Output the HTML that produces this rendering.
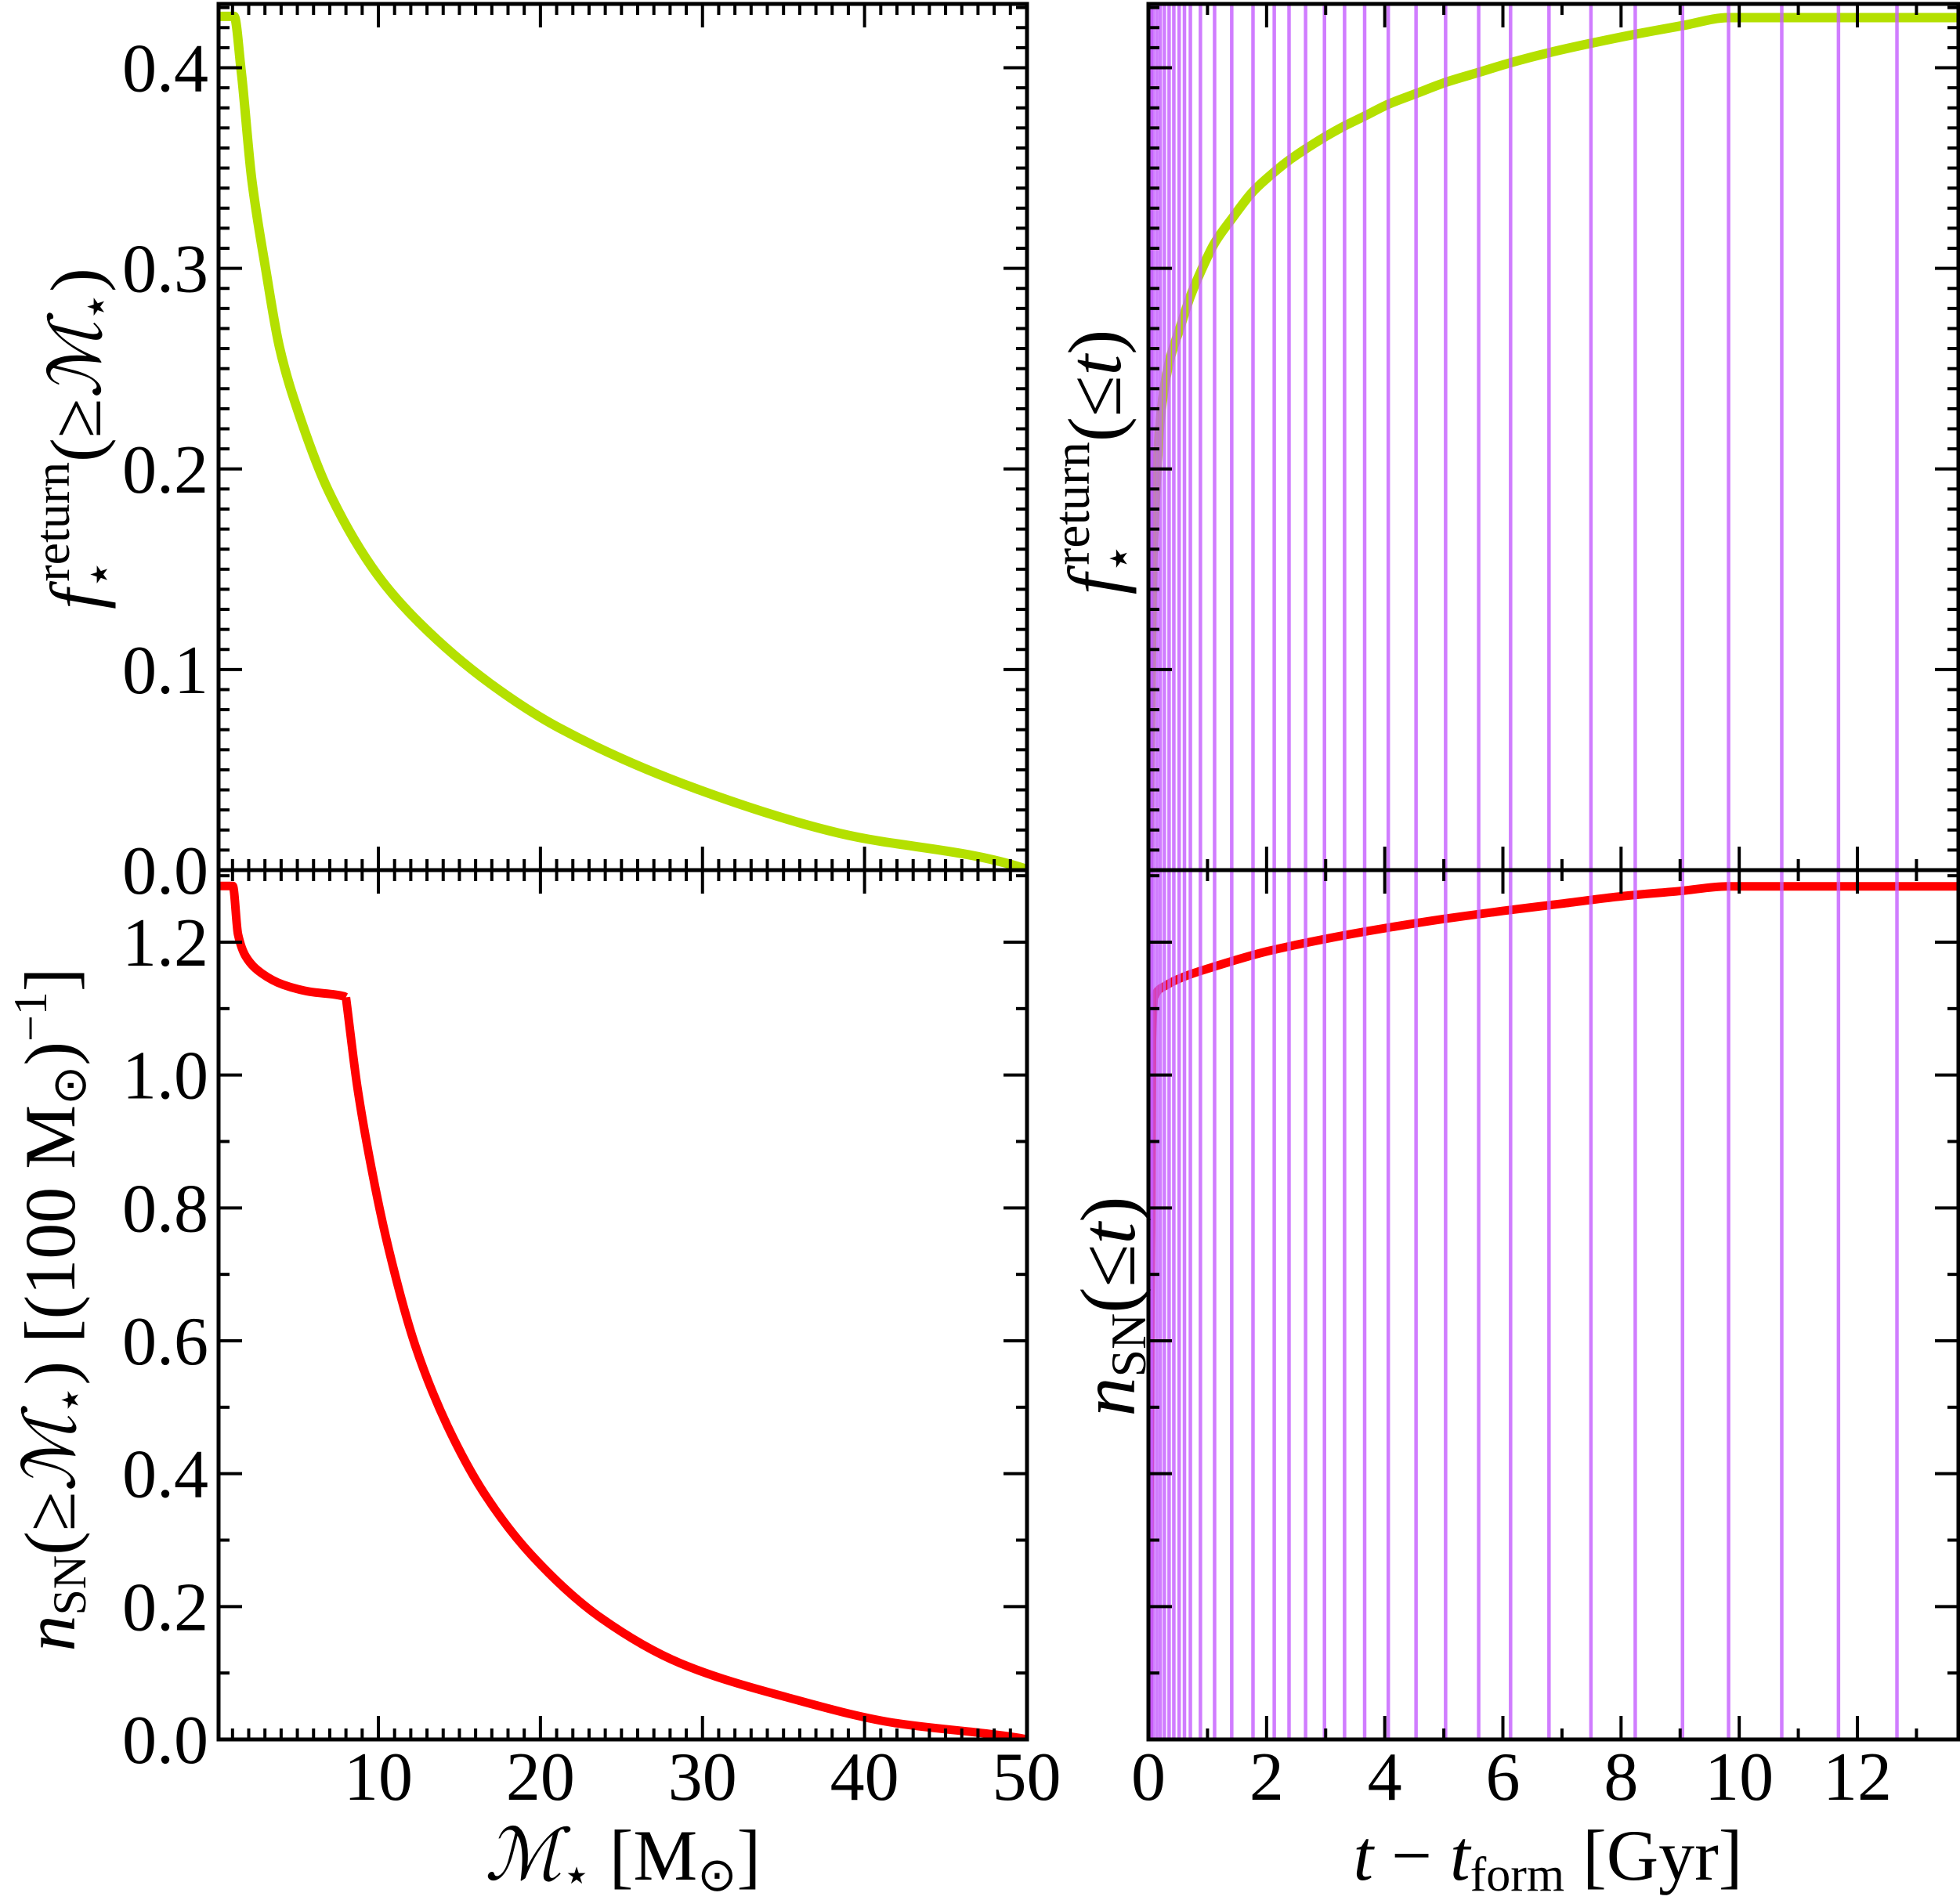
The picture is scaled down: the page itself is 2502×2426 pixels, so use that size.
<!DOCTYPE html>
<html><head><meta charset="utf-8"><style>
html,body{margin:0;padding:0;background:#fff;}
svg{display:block;font-family:"Liberation Serif",serif;}
</style></head><body>
<svg id="fig" width="2502" height="2426" viewBox="0 0 2502 2426" xmlns="http://www.w3.org/2000/svg">
<g id="clips"></g>
<g id="layer"></g>
<g id="labels">
 <text transform="translate(128,560) rotate(-90)" text-anchor="middle" font-size="92"><tspan font-style="italic">f</tspan><tspan font-size="60" dy="18">⋆</tspan><tspan font-size="64" dy="-58" dx="-28">return</tspan><tspan dy="40">(≥</tspan><tspan font-style="italic">ℳ</tspan><tspan font-size="60" dy="14">⋆</tspan><tspan dy="-14">)</tspan></text>
 <text transform="translate(95,1672) rotate(-90)" text-anchor="middle" font-size="92"><tspan font-style="italic">n</tspan><tspan font-size="60" dy="14">SN</tspan><tspan dy="-14">(≥</tspan><tspan font-style="italic">ℳ</tspan><tspan font-size="60" dy="14">⋆</tspan><tspan dy="-14">)  [(100 M</tspan><tspan font-size="60" dy="14">⊙</tspan><tspan dy="-14">)</tspan><tspan font-size="60" dy="-36">−1</tspan><tspan dy="36">]</tspan></text>
 <text transform="translate(1430,590) rotate(-90)" text-anchor="middle" font-size="96"><tspan font-style="italic">f</tspan><tspan font-size="62" dy="18">⋆</tspan><tspan font-size="66" dy="-58" dx="-28">return</tspan><tspan dy="40">(≤</tspan><tspan font-style="italic">t</tspan><tspan>)</tspan></text>
 <text transform="translate(1448,1668) rotate(-90)" text-anchor="middle" font-size="100"><tspan font-style="italic">n</tspan><tspan font-size="64" dy="14">SN</tspan><tspan dy="-14">(≤</tspan><tspan font-style="italic">t</tspan><tspan>)</tspan></text>
 <text x="795" y="2400" text-anchor="middle" font-size="92"><tspan font-style="italic">ℳ</tspan><tspan font-size="60" dy="14">⋆</tspan><tspan dy="-14"> [M</tspan><tspan font-size="60" dy="14">⊙</tspan><tspan dy="-14">]</tspan></text>
 <text x="1976" y="2400" text-anchor="middle" font-size="92"><tspan font-style="italic">t</tspan><tspan> − </tspan><tspan font-style="italic">t</tspan><tspan font-size="62" dy="14">form</tspan><tspan dy="-14"> [Gyr]</tspan></text>
</g>
</svg>
<script>
// ---- data ----
const massTL = [0.1,1.1,1.54,2.19,3.05,3.9,5.21,6.93,9.96,12.55,16.87,21.18,29.8,38.45,49.7,50];
const fretTL = [0.4256,0.4256,0.398,0.3443,0.2995,0.2606,0.2247,0.1889,0.147,0.1231,0.0932,0.0708,0.04,0.0184,0.0012,0];
const massBL1 = [0.1,1.02,1.34,1.83,2.81,4.12,5.75,7.88,8.0];
const nsnBL1 = [1.2846,1.2846,1.212,1.178,1.153,1.136,1.1255,1.1186,1.117];
const massBL2 = [8.0,8.7,9.68,10.66,12.3,14.26,16.54,19.49,23.74,28.64,35.18,41.72,49.6,50];
const nsnBL2 = [1.117,0.9825,0.8464,0.7357,0.591,0.472,0.37,0.2764,0.1828,0.1146,0.0636,0.0254,0.002,0];
const timeTR = [0,0.03,0.077,0.14,0.2,0.35,0.52,0.71,0.88,1.12,1.41,1.77,2.13,2.38,2.66,2.98,3.32,3.66,4.06,4.53,5.03,5.59,6.13,6.78,7.49,8.24,9.04,9.82,13.75];
const fretTR = [0,0.071,0.155,0.197,0.2245,0.253,0.269,0.286,0.298,0.3126,0.3246,0.3383,0.348,0.3539,0.3595,0.3654,0.371,0.3759,0.3818,0.3871,0.3927,0.3977,0.4025,0.4075,0.4122,0.4167,0.421,0.425,0.425];
const timeBR = [0,0.03,0.06,0.1,0.3,0.6,1,2,3,4,5,6,7,8,9,9.8,13.75];
const nsnBR = [0,0.6,1.05,1.118,1.135,1.148,1.16,1.186,1.205,1.221,1.235,1.247,1.258,1.269,1.277,1.284,1.284];
const snTimes = [0.02,0.05,0.077,0.14,0.2,0.27,0.35,0.43,0.52,0.61,0.71,0.88,1.12,1.41,1.77,2.13,2.38,2.66,2.98,3.32,3.66,4.06,4.53,5.03,5.59,6.13,6.78,7.49,8.24,9.04,9.82,10.72,11.68,12.67];
const leftXTicks = [10,20,30,40,50];
const rightXTicks = [0,2,4,6,8,10,12];
const topYTicks = ["0.0","0.1","0.2","0.3","0.4"];
const botYTicks = ["0.0","0.2","0.4","0.6","0.8","1.0","1.2"];

const NS="http://www.w3.org/2000/svg";
const layer=document.getElementById('layer');
function mk(tag,attrs,parent){const e=document.createElementNS(NS,tag);for(const k in attrs)e.setAttribute(k,attrs[k]);(parent||layer).appendChild(e);return e;}
function lin(d0,d1,r0,r1){return v=>r0+(v-d0)*(r1-r0)/(d1-d0);}

const L={x0:279,x1:1311}, R={x0:1466,x1:2500};
const T={y0:5,y1:1111}, B={y0:1111,y1:2221};
const xL=lin(10,50,483,1310.5);
const xR=lin(0,12,1466,2371);
const yT=lin(0,0.4,1111,86.5);
const yB=lin(0,1.2,2221,1203);

function clip(id,x0,x1,y0,y1){const c=mk('clipPath',{id:id},document.getElementById('clips'));mk('rect',{x:x0,y:y0,width:x1-x0,height:y1-y0},c);}
clip('cTL',L.x0,L.x1,T.y0,T.y1);clip('cBL',L.x0,L.x1,B.y0,B.y1);
clip('cTR',R.x0,R.x1,T.y0,T.y1);clip('cBR',R.x0,R.x1,B.y0,B.y1);

// monotone cubic (Fritsch-Carlson) path in pixel space
function monoPath(px,py){
  const n=px.length;const d=[],m=[];
  for(let i=0;i<n-1;i++){const dx=px[i+1]-px[i];d.push(dx===0?0:(py[i+1]-py[i])/dx);}
  m[0]=d[0];m[n-1]=d[n-2];
  for(let i=1;i<n-1;i++){m[i]=(d[i-1]*d[i]<=0)?0:3*(px[i+1]-px[i-1])/((2*px[i+1]-px[i]-px[i-1])/d[i-1]+(px[i+1]+px[i]-2*px[i-1])/d[i]);}
  let s='M'+px[0].toFixed(1)+' '+py[0].toFixed(1);
  for(let i=0;i<n-1;i++){const h=(px[i+1]-px[i])/3;
    s+='C'+(px[i]+h).toFixed(1)+' '+(py[i]+m[i]*h).toFixed(1)+' '+(px[i+1]-h).toFixed(1)+' '+(py[i+1]-m[i+1]*h).toFixed(1)+' '+px[i+1].toFixed(1)+' '+py[i+1].toFixed(1);}
  return s;
}
function curve(xs,ys,fx,fy,color,w,clipId,name){
  const d=monoPath(xs.map(fx),ys.map(fy));
  const p=mk('path',{d:d,fill:'none',stroke:color,'stroke-width':w,'stroke-linejoin':'round','clip-path':'url(#'+clipId+')'});
  
  
}
curve(massTL,fretTL,xL,yT,'#b4e000',12,'cTL','return-fraction-mass-curve');
curve(massBL1,nsnBL1,xL,yB,'#ff0000',11,'cBL','supernova-count-mass-curve-low');
curve(massBL2,nsnBL2,xL,yB,'#ff0000',11,'cBL','supernova-count-mass-curve-high');
curve(timeTR,fretTR,xR,yT,'#b4e000',12,'cTR','return-fraction-time-curve');
curve(timeBR,nsnBR,xR,yB,'#ff0000',11,'cBR','supernova-count-time-curve');

snTimes.forEach(t=>{
  const x=xR(t);
  const l=mk('line',{x1:x,x2:x,y1:T.y0,y2:B.y1,stroke:'#c45cff','stroke-opacity':0.8,'stroke-width':4.5});
  
  
});

function tickX(fx,xmin,xmax,minorStep,majorStep,yTop,yBot){
  for(let v=Math.ceil(xmin/minorStep)*minorStep; v<=xmax+1e-9; v+=minorStep){
    const major=Math.abs(v/majorStep-Math.round(v/majorStep))<1e-6;
    const len=major?30:14;const x=fx(v);
    mk('line',{x1:x,x2:x,y1:yTop,y2:yTop+len,stroke:'#000','stroke-width':4});
    mk('line',{x1:x,x2:x,y1:yBot,y2:yBot-len,stroke:'#000','stroke-width':4});
  }
}
function tickY(fy,vmin,vmax,minorStep,majorStep,xl,xr){
  for(let v=0; v<=vmax+1e-9; v+=minorStep){
    if(v<vmin-1e-9)continue;
    const major=Math.abs(v/majorStep-Math.round(v/majorStep))<1e-6;
    const len=major?30:14;const y=fy(v);
    mk('line',{x1:xl,x2:xl+len,y1:y,y2:y,stroke:'#000','stroke-width':4});
    mk('line',{x1:xr,x2:xr-len,y1:y,y2:y,stroke:'#000','stroke-width':4});
  }
}
tickX(xL,1,50,1,10,T.y0,T.y1);tickX(xL,1,50,1,10,B.y0,B.y1);
tickX(xR,0,13.7,1,2,T.y0,T.y1);tickX(xR,0,13.7,1,2,B.y0,B.y1);
tickY(yT,0,0.43,0.01,0.1,L.x0,L.x1);tickY(yT,0,0.43,0.01,0.1,R.x0,R.x1);
tickY(yB,0,1.3,0.1,0.2,L.x0,L.x1);tickY(yB,0,1.3,0.1,0.2,R.x0,R.x1);

[[L,T,'top-left-panel'],[L,B,'bottom-left-panel'],[R,T,'top-right-panel'],[R,B,'bottom-right-panel']].forEach(([h,v,n])=>{
  const r=mk('rect',{x:h.x0,y:v.y0,width:h.x1-h.x0,height:v.y1-v.y0,fill:'none',stroke:'#000','stroke-width':5});
  
  
});

leftXTicks.forEach(v=>{
  const t=mk('text',{x:xL(v),y:2298,'text-anchor':'middle','font-size':88});t.textContent=v;
  
  
});
rightXTicks.forEach(v=>{
  const t=mk('text',{x:xR(v),y:2298,'text-anchor':'middle','font-size':88});t.textContent=v;
  
  
});
topYTicks.forEach(s=>{
  const t=mk('text',{x:266,y:yT(parseFloat(s))+30,'text-anchor':'end','font-size':88});t.textContent=s;
  
  
});
botYTicks.forEach(s=>{
  const t=mk('text',{x:266,y:yB(parseFloat(s))+30,'text-anchor':'end','font-size':88});t.textContent=s;
  
  
});
</script>
</body></html>
